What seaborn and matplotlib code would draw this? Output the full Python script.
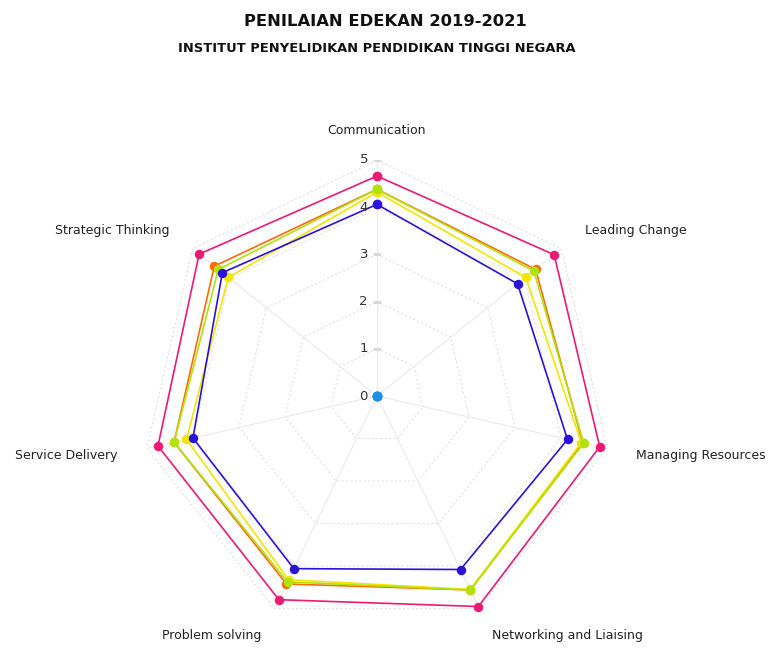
import numpy as np
import pandas as pd
import matplotlib
matplotlib.use("Agg")
import matplotlib.pyplot as plt
import seaborn as sns

# Competency dimensions (clockwise from the top)
categories = [
    "Communication",
    "Leading Change",
    "Managing Resources",
    "Networking and Liaising",
    "Problem solving",
    "Service Delivery",
    "Strategic Thinking",
]

# Scores per series, in the order of the categories above
series_names = ["Sasaran", "2019", "2020", "2021", "Purata", "Asas"]
scores_sasaran = [4.66, 4.80, 4.84, 4.95, 4.79, 4.76, 4.82]
scores_2019 = [4.38, 4.30, 4.47, 4.56, 4.42, 4.41, 4.41]
scores_2020 = [4.32, 4.03, 4.44, 4.55, 4.32, 4.14, 4.03]
scores_2021 = [4.38, 4.25, 4.49, 4.56, 4.37, 4.41, 4.30]
scores_purata = [4.06, 3.81, 4.14, 4.08, 4.06, 4.00, 4.19]
scores_asas = [0, 0, 0, 0, 0, 0, 0]

radial_ticks = [0, 1, 2, 3, 4, 5]

colors = {
    "Sasaran": "#ec1a72",
    "2019": "#ff6a08",
    "2020": "#f2e600",
    "2021": "#b2e20c",
    "Purata": "#2a12d8",
    "Asas": "#1e8fe2",
}

all_scores = [scores_sasaran, scores_2019, scores_2020, scores_2021,
              scores_purata, scores_asas]

n = len(categories)
angles = np.linspace(0, 2 * np.pi, n, endpoint=False)
closed_angles = np.append(angles, 2 * np.pi)

rows = []
for name, vals in zip(series_names, all_scores):
    closed_vals = list(vals) + [vals[0]]
    for order, (a, v) in enumerate(zip(closed_angles, closed_vals)):
        rows.append({"series": name, "theta": a, "score": v, "order": order})
df = pd.DataFrame(rows)

sns.set_theme(style="white")
plt.rcParams["font.family"] = ["DejaVu Sans"]

W, H = 771, 652
fig = plt.figure(figsize=(W / 100, H / 100), dpi=100)
cx, cy, rad = 377, 396, 236
ax = fig.add_axes([(cx - rad) / W, (H - cy - rad) / H, 2 * rad / W, 2 * rad / H],
                  projection="polar")
ax.set_theta_offset(np.pi / 2)
ax.set_theta_direction(-1)
ax.set_ylim(0, 5)
ax.grid(False)
ax.spines["polar"].set_visible(False)
ax.set_xticks([])
ax.set_yticks([])
ax.set_facecolor("white")

# Polygonal grid rings and spokes
for level in radial_ticks[1:]:
    ax.plot(closed_angles, [level] * (n + 1), color="#e2e2e2", lw=0.8,
            ls=(0, (2, 2)), zorder=0)
for a in angles:
    ax.plot([a, a], [0, 5], color="#ececec", lw=0.9, zorder=0)

# Radial tick labels along the first axis
for t in radial_ticks:
    ax.plot([0], [t], marker="_", color="#d8d8d8", markersize=6, zorder=0)
    ax.annotate(str(t), xy=(0, t), xytext=(-9, 0), textcoords="offset pixels",
                ha="right", va="center", fontsize=9.5, color="#333333")

# Data series
n_before = len(ax.lines)
sns.lineplot(data=df, x="theta", y="score", hue="series", hue_order=series_names,
             palette=colors, sort=False, estimator=None, units="series",
             marker="o", markersize=6.8, markeredgewidth=0, linewidth=1.2,
             legend=False, ax=ax)
for line in ax.lines[n_before:]:
    line.set_clip_on(False)
ax.set_xlabel("")
ax.set_ylabel("")
ax.set_xticks([])
ax.set_yticks([])
ax.set_ylim(0, 5)

# Category labels around the outside
for a, label in zip(angles, categories):
    dx, dy = 30 * np.sin(a), 30 * np.cos(a)
    if abs(dx) < 1:
        ha = "center"
    elif dx > 0:
        ha = "left"
    else:
        ha = "right"
    ax.annotate(label, xy=(a, 5), xytext=(dx, dy), textcoords="offset pixels",
                ha=ha, va="center", fontsize=9, color="#222222",
                annotation_clip=False)

fig.text(385 / W, 1 - 22 / H, "PENILAIAN EDEKAN 2019-2021", ha="center",
         va="center", fontsize=11.8, fontweight="bold", color="#111111")
fig.text(377 / W, 1 - 48 / H, "INSTITUT PENYELIDIKAN PENDIDIKAN TINGGI NEGARA",
         ha="center", va="center", fontsize=9.4, fontweight="bold", color="#111111")

fig.savefig("out.png", dpi=100, facecolor="white")
